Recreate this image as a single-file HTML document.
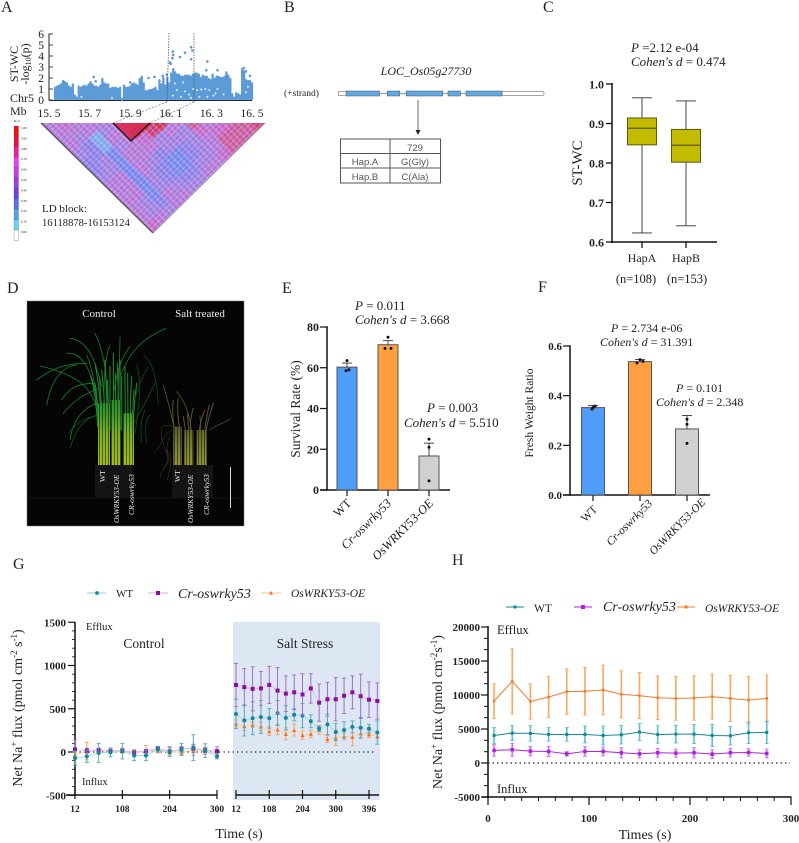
<!DOCTYPE html>
<html lang="en">
<head>
<meta charset="utf-8">
<title>OsWRKY53 salt tolerance figure</title>
<style>
html,body{margin:0;padding:0;background:#fff;width:799px;height:843px;overflow:hidden}
svg{display:block}
text{font-family:"Liberation Serif",serif;fill:#222}
.letter{font-size:16px}
.note{font-size:13px}
.it{font-style:italic}
.tick{font-size:11px;font-weight:bold;fill:#111}
</style>
</head>
<body>
<svg id="fig" xmlns="http://www.w3.org/2000/svg" width="799" height="843" viewBox="0 0 799 843">
<defs>
<clipPath id="ldClip"><polygon points="41,123 265,123 153,233"/></clipPath>
<pattern id="meshA" width="4" height="4" patternUnits="userSpaceOnUse" patternTransform="rotate(45)"><rect width="1.2" height="4" fill="#bfe4ff" opacity=".32"/><rect x="2.4" width=".8" height="4" fill="#a040c0" opacity=".14"/></pattern>
<pattern id="meshB" width="5" height="5" patternUnits="userSpaceOnUse" patternTransform="rotate(-45)"><rect width="1.2" height="5" fill="#d8d8ff" opacity=".32"/><rect x="3" width=".9" height="5" fill="#6040c0" opacity=".14"/></pattern>
<linearGradient id="stemG" gradientUnits="userSpaceOnUse" x1="0" y1="435" x2="0" y2="170"><stop offset="0" stop-color="#a2bc1e"/><stop offset=".35" stop-color="#7cb024"/><stop offset=".6" stop-color="#38982c"/><stop offset="1" stop-color="#187428"/></linearGradient>
<linearGradient id="stemS" gradientUnits="userSpaceOnUse" x1="0" y1="435" x2="0" y2="280"><stop offset="0" stop-color="#949438"/><stop offset=".5" stop-color="#6e7430"/><stop offset="1" stop-color="#404c20"/></linearGradient>
<pattern id="stemStripes" width="9" height="9" patternUnits="userSpaceOnUse"><rect width="2.6" height="9" fill="#000" opacity=".55"/></pattern>
</defs>

<!-- panel letters -->
<text class="letter" x="1" y="12">A</text>
<text class="letter" x="284" y="12">B</text>
<text class="letter" x="543" y="12">C</text>
<text class="letter" x="7" y="293">D</text>
<text class="letter" x="282" y="293">E</text>
<text class="letter" x="538" y="292">F</text>
<text class="letter" x="13" y="569">G</text>
<text class="letter" x="452" y="565">H</text>

<!-- Panel A -->
<g id="panelA">
  <g id="manhattan"></g>
  <text x="18" y="64" transform="rotate(-90 18 64)" text-anchor="middle" font-size="12">ST-WC</text>
  <text x="29" y="64" transform="rotate(-90 29 64)" text-anchor="middle" font-size="12">-log<tspan font-size="8" dy="2">10</tspan><tspan dy="-2">(p)</tspan></text>
  <text x="10" y="102" font-size="12">Chr5</text>
  <text x="10" y="115" font-size="12">Mb</text>
  <g id="ldMap" clip-path="url(#ldClip)"></g>
  <rect x="41" y="123" width="224" height="110" fill="url(#meshA)" clip-path="url(#ldClip)"/>
  <rect x="41" y="123" width="224" height="110" fill="url(#meshB)" clip-path="url(#ldClip)"/>
  <polygon points="113,123 150,123 131,141" fill="#d8264c" opacity=".85"/>
  <polyline points="113,123 131,141 150,123" fill="none" stroke="#111" stroke-width="1.3"/>
  <line x1="41" y1="123" x2="153" y2="233" stroke="#555" stroke-width="1.3"/>
  <line x1="265" y1="123" x2="153" y2="233" stroke="#8a7a9a" stroke-width=".7"/>
  <line x1="167" y1="102" x2="113" y2="123" stroke="#777" stroke-width=".7" stroke-dasharray="2 1.5"/>
  <line x1="194" y1="102" x2="150" y2="123" stroke="#777" stroke-width=".7" stroke-dasharray="2 1.5"/>
  <text x="42" y="212" font-size="11">LD block:</text>
  <text x="42" y="226" font-size="10.6">16118878-16153124</text>
  <g id="ldBar"></g>
  <text x="14" y="122" font-size="3.5">R^2</text>
</g>

<!-- Panel B -->
<g id="panelB">
  <text x="426" y="75" text-anchor="middle" font-size="12" class="it" fill="#333">LOC_Os05g27730</text>
  <text x="284" y="96" font-size="9.5">(+strand)</text>
  <line x1="338" y1="93.5" x2="544" y2="93.5" stroke="#aaa" stroke-width="1.6"/>
  <rect x="338.5" y="91.5" width="8" height="4" fill="#fff" stroke="#888" stroke-width=".7"/>
  <rect x="502" y="91.5" width="42" height="4" rx="1.5" fill="#fff" stroke="#888" stroke-width=".7"/>
  <rect x="346" y="91" width="33.5" height="5" fill="#62a8e0" stroke="#456" stroke-width=".5"/>
  <rect x="387.3" y="91" width="12.5" height="5" fill="#62a8e0" stroke="#456" stroke-width=".5"/>
  <rect x="406.3" y="91" width="36.5" height="5" fill="#62a8e0" stroke="#456" stroke-width=".5"/>
  <rect x="448" y="91" width="12.5" height="5" fill="#62a8e0" stroke="#456" stroke-width=".5"/>
  <rect x="466" y="91" width="36" height="5" fill="#62a8e0" stroke="#456" stroke-width=".5"/>
  <line x1="418" y1="100" x2="418" y2="131" stroke="#444" stroke-width=".8"/>
  <polygon points="415.5,130 420.5,130 418,135" fill="#222"/>
  <g fill="none" stroke="#555" stroke-width="1">
    <rect x="340.5" y="139" width="100" height="44"/>
    <line x1="390" y1="139" x2="390" y2="183"/>
    <line x1="340.5" y1="153.5" x2="440.5" y2="153.5"/>
    <line x1="340.5" y1="168" x2="440.5" y2="168"/>
  </g>
  <g style="font-family:'Liberation Sans',sans-serif" font-size="9.5" text-anchor="middle">
    <text x="415" y="151" style="font-family:'Liberation Sans',sans-serif;fill:#555">729</text>
    <text x="365" y="165" style="font-family:'Liberation Sans',sans-serif;fill:#555">Hap.A</text>
    <text x="415" y="165" style="font-family:'Liberation Sans',sans-serif;fill:#555">G(Gly)</text>
    <text x="365" y="180" style="font-family:'Liberation Sans',sans-serif;fill:#555">Hap.B</text>
    <text x="415" y="180" style="font-family:'Liberation Sans',sans-serif;fill:#555">C(Ala)</text>
  </g>
</g>

<!-- Panel C -->
<g id="panelC">
  <text x="631" y="52" class="note"><tspan class="it">P</tspan> =2.12 e-04</text>
  <text x="631" y="66" class="note"><tspan class="it">Cohen's d</tspan> = 0.474</text>
  <text x="582" y="163" transform="rotate(-90 582 163)" text-anchor="middle" font-size="15">ST-WC</text>
  <g id="boxChart"></g>
</g>

<!-- Panel D photograph drawn with shapes -->
<g id="panelD">
  <rect x="27" y="301" width="217" height="225" fill="#050505" stroke="#777" stroke-width=".5"/>
  <line x1="27" y1="498" x2="244" y2="498" stroke="#121212"/>
  <rect x="95" y="465" width="38" height="33" fill="#141414"/>
  <rect x="172" y="465" width="41" height="33" fill="#141414"/>
  <g transform="translate(30,320) scale(.33333)" fill="none" stroke-linecap="round">
    <g stroke="#1a7f2a" stroke-width="2.4">
      <path d="M205 300C195 220 170 170 30 138"/><path d="M20 180C60 150 100 130 170 130"/><path d="M50 255C60 200 85 140 140 135"/>
      <path d="M120 360C130 290 170 260 200 250"/><path d="M270 170C300 90 340 55 408 25"/><path d="M120 55C160 60 190 90 215 200"/>
      <path d="M195 40C215 80 230 130 235 280"/><path d="M240 75C225 110 220 170 222 300"/><path d="M270 50C270 100 265 200 260 300"/>
      <path d="M110 100C150 95 185 140 200 240"/><path d="M300 80C270 120 250 170 245 300"/><path d="M100 280C130 240 170 220 205 205"/>
      <path d="M170 105C190 150 200 230 205 300"/><path d="M95 240C120 200 150 190 190 190"/>
    </g>
    <g stroke="#1f8a2c" stroke-width="3.2">
      <path d="M195 130C205 180 212 240 215 330"/><path d="M225 120C228 180 232 240 232 330"/><path d="M250 100C250 170 250 240 252 330"/>
      <path d="M262 130C264 190 266 250 266 330"/><path d="M285 140C285 190 285 260 287 340"/><path d="M305 170C302 220 300 280 300 340"/>
      <path d="M215 150C220 200 225 250 225 330"/><path d="M240 140C240 200 240 260 240 330"/><path d="M275 170C275 220 275 270 275 330"/>
      <path d="M195 190C202 230 205 270 208 340"/><path d="M320 190C315 230 310 280 308 340"/><path d="M208 170C212 220 216 270 218 330"/>
      <path d="M232 180C234 220 236 270 236 330"/><path d="M256 160C256 210 258 260 258 330"/><path d="M270 120C270 190 270 260 272 330"/>
      <path d="M293 160C293 210 294 270 294 340"/><path d="M312 210C310 250 306 290 304 340"/><path d="M182 170C195 210 200 260 203 320"/>
    </g>
    <g stroke="#0f5a20" stroke-width="2">
      <path d="M375 190C360 220 330 280 300 330"/><path d="M340 105C370 125 380 180 385 250"/><path d="M120 385C130 350 150 300 200 285"/>
      <path d="M115 340C140 310 165 290 195 290"/><path d="M355 140C330 180 310 230 295 340"/><path d="M350 370C345 330 345 300 360 285"/>
      <path d="M320 135C335 180 330 240 315 340"/><path d="M335 365C330 330 332 300 345 270"/>
    </g>
    <rect x="204" y="250" width="36" height="185" fill="url(#stemG)"/>
    <rect x="244" y="240" width="28" height="195" fill="url(#stemG)"/>
    <rect x="280" y="280" width="32" height="155" fill="url(#stemG)"/>
    <rect x="204" y="250" width="36" height="185" fill="url(#stemStripes)"/>
    <rect x="244" y="240" width="28" height="195" fill="url(#stemStripes)"/>
    <rect x="280" y="280" width="32" height="155" fill="url(#stemStripes)"/>
  </g>
  <g transform="translate(30,320) scale(.33333)" fill="none" stroke-linecap="round">
    <g stroke="#3f6a26" stroke-width="2.2">
      <path d="M400 195C415 250 430 300 435 350"/><path d="M440 215C470 250 480 290 485 340"/><path d="M540 330C560 315 580 310 600 297"/>
      <path d="M510 290C512 320 515 350 515 380"/>
    </g>
    <g stroke="#5e4e36" stroke-width="3">
      <path d="M430 240C425 270 430 320 440 360"/><path d="M445 235C440 260 445 300 450 340"/><path d="M490 265C480 290 480 330 480 370"/>
      <path d="M550 250C540 280 530 310 520 380"/><path d="M525 270C510 300 505 340 505 380"/><path d="M460 290C465 320 470 350 470 380"/>
      <path d="M472 280C475 310 478 340 478 370"/><path d="M538 255C530 285 525 320 522 360"/>
    </g>
    <g stroke="#5a462c" stroke-width="1.4">
      <path d="M430 320C380 300 390 350 410 400C420 430 395 450 390 470"/><path d="M425 330C400 340 395 380 375 395"/>
      <path d="M405 390C430 400 425 430 412 478"/><path d="M420 350C395 390 435 420 400 445"/>
    </g>
    <rect x="430" y="320" width="25" height="115" fill="url(#stemS)"/>
    <rect x="463" y="330" width="27" height="105" fill="url(#stemS)"/>
    <rect x="500" y="330" width="30" height="105" fill="url(#stemS)"/>
    <rect x="430" y="320" width="25" height="115" fill="url(#stemStripes)"/>
    <rect x="463" y="330" width="27" height="105" fill="url(#stemStripes)"/>
    <rect x="500" y="330" width="30" height="105" fill="url(#stemStripes)"/>
  </g>
  <line x1="230.500" y1="467" x2="230.500" y2="508" stroke="#ddd" stroke-width="1"/>
  <text x="99" y="317" text-anchor="middle" font-size="11" style="fill:#eee">Control</text>
  <text x="200" y="317" text-anchor="middle" font-size="11" style="fill:#eee">Salt treated</text>
  <g font-size="7.5">
    <text transform="translate(105,482) rotate(-90)" style="fill:#eee">WT</text>
    <text transform="translate(119,523) rotate(-90)" class="it" style="fill:#eee">OsWRKY53-OE</text>
    <text transform="translate(134,515) rotate(-90)" class="it" style="fill:#eee">CR-oswrky53</text>
    <text transform="translate(180,482) rotate(-90)" style="fill:#eee">WT</text>
    <text transform="translate(193,523) rotate(-90)" class="it" style="fill:#eee">OsWRKY53-OE</text>
    <text transform="translate(209,515) rotate(-90)" class="it" style="fill:#eee">CR-oswrky53</text>
  </g>
</g>

<!-- Panel E -->
<g id="panelE">
  <text x="355" y="310" class="note"><tspan class="it">P</tspan> = 0.011</text>
  <text x="355" y="324" class="note"><tspan class="it">Cohen's d</tspan> = 3.668</text>
  <text x="427" y="412" class="note"><tspan class="it">P</tspan> = 0.003</text>
  <text x="404" y="427" class="note"><tspan class="it">Cohen's d</tspan> = 5.510</text>
  <text x="300" y="409" transform="rotate(-90 300 409)" text-anchor="middle" font-size="13.500">Survival Rate (%)</text>
  <g id="barE"></g>
</g>

<!-- Panel F -->
<g id="panelF">
  <text x="611" y="332" font-size="12"><tspan class="it">P</tspan> = 2.734 e-06</text>
  <text x="600" y="346" font-size="12"><tspan class="it">Cohen's d</tspan> = 31.391</text>
  <text x="676" y="392" font-size="12"><tspan class="it">P</tspan> = 0.101</text>
  <text x="656" y="406" font-size="12"><tspan class="it">Cohen's d</tspan> = 2.348</text>
  <text x="533" y="413" transform="rotate(-90 533 413)" text-anchor="middle" font-size="11.500">Fresh Weight Ratio</text>
  <g id="barF"></g>
</g>

<!-- Panel G -->
<g id="panelG">
  <rect x="233" y="622" width="147" height="178" fill="#dce7f3"/>
  <g id="lineG"></g>
  <text x="86" y="630" font-size="10.500">Efflux</text>
  <text x="82" y="785" font-size="10.500">Influx</text>
  <text x="144" y="648" text-anchor="middle" font-size="13.500">Control</text>
  <text x="305" y="648" text-anchor="middle" font-size="13.500">Salt Stress</text>
  <text x="239" y="838" text-anchor="middle" font-size="14">Time (s)</text>
  <text x="22" y="708" transform="rotate(-90 22 708)" text-anchor="middle" font-size="14">Net Na<tspan font-size="9" dy="-5">+</tspan><tspan dy="5"> flux (pmol cm</tspan><tspan font-size="9" dy="-5">-2</tspan><tspan dy="5"> s</tspan><tspan font-size="9" dy="-5">-1</tspan><tspan dy="5">)</tspan></text>
  <g>
    <line x1="87" y1="593" x2="106" y2="593" stroke="#a8d8e8" stroke-width="1.3"/>
    <circle cx="97" cy="593" r="1.9" fill="#16869a"/>
    <text x="116" y="597" font-size="11">WT</text>
    <line x1="148" y1="593" x2="168" y2="593" stroke="#e8b8ec" stroke-width="1.3"/>
    <rect x="156" y="591" width="4" height="4" fill="#8a0fa0"/>
    <text x="178" y="598" font-size="14" class="it">Cr-oswrky53</text>
    <line x1="261" y1="593" x2="281" y2="593" stroke="#fbd0a0" stroke-width="1.3"/>
    <polygon points="271,590.800 273,594.500 269,594.500" fill="#f57020"/>
    <text x="291" y="597" font-size="11.500" class="it">OsWRKY53-OE</text>
  </g>
</g>

<!-- Panel H -->
<g id="panelH">
  <g id="lineH"></g>
  <text x="497" y="634" font-size="12.500">Efflux</text>
  <text x="497" y="793" font-size="12.500">Influx</text>
  <text x="645" y="839" text-anchor="middle" font-size="14">Times (s)</text>
  <text x="442" y="712" transform="rotate(-90 442 712)" text-anchor="middle" font-size="14">Net Na<tspan font-size="9" dy="-5">+</tspan><tspan dy="5"> flux (pmol cm</tspan><tspan font-size="9" dy="-5">-2</tspan><tspan dy="5">s</tspan><tspan font-size="9" dy="-5">-1</tspan><tspan dy="5">)</tspan></text>
  <g>
    <line x1="506" y1="607" x2="524" y2="607" stroke="#16869a" stroke-width="1"/>
    <rect x="513.500" y="605.500" width="3" height="3" fill="#16869a"/>
    <text x="534" y="612" font-size="11.500">WT</text>
    <line x1="574" y1="607" x2="592" y2="607" stroke="#b01fe0" stroke-width="1"/>
    <rect x="581" y="605" width="4" height="4" fill="#b01fe0"/>
    <text x="603" y="611" font-size="14" class="it">Cr-oswrky53</text>
    <line x1="677" y1="607" x2="695" y2="607" stroke="#f07a2e" stroke-width="1"/>
    <rect x="684.500" y="605.500" width="3" height="3" fill="#f07a2e"/>
    <text x="705" y="612" font-size="11.500" class="it">OsWRKY53-OE</text>
  </g>
</g>
</svg>

<script>
// ---------- Panel A data ----------
var manhattanXTicks = ["15. 5","15. 7","15. 9","16. 1","16. 3","16. 5"];
var manhattanXValues = [15.5,15.7,15.9,16.1,16.3,16.5];
var manhattanYTicks = [0,1,2,3,4,5,6];
var manhattanBinStart = 15.53;
var manhattanBinEnd = 16.5;
var manhattanTops = [1.2,1.3,1.4,1.5,1.7,1.7,1.6,1.3,1.2,1.5,.5,.3,1.3,1.2,1.3,1.4,1.3,1.5,1.7,1.5,1.3,1.3,1.2,1.4,2.0,1.6,1.5,1.5,1.1,1.2,1.2,1.2,1.1,1.2,.1,1.4,1.2,1.2,1.3,1.5,1.6,1.5,1.4,2.0,2.2,1.6,.9,.9,1.0,1.0,1.1,1.2,.9,1.9,1.5,2.1,1.4,2.1,1.6,2.5,2.9,2.6,2.4,2.4,2.2,2.2,2.3,2.3,2.3,2.2,2.4,2.5,2.5,2.4,2.1,2.3,2.2,2.2,2.0,1.9,2.4,2.0,2.2,2.2,2.1,2.1,2.2,2.6,2.3,2.0,.6,.3,.7,.6,.5,2.9,2.7,1.9,1.8,1.8,1.6];
var manhattanHitPos = [16.11,16.112,16.108,16.096,16.1,16.145,16.17,16.2,16.206,16.2,16.28,16.275,16.33,16.46,16.47,16.49,16.06,16.08,16.02,15.99,15.72,15.57,15.73,15.9];
var manhattanHitVal = [4.4,4.1,3.8,3.4,3.3,3.9,4.3,4.8,4.5,3.7,3.5,2.7,2.7,2.9,2.6,2.2,2.2,2.3,2.1,2.0,2.1,1.7,1.7,1.6];
var manhattanGapPos = [16.11,16.13,16.15,16.17,16.19,16.21,16.23,16.25,16.27,16.29,16.31,16.33,16.12,16.16,16.2,16.24,16.28,16.32,16.36,16.47,16.48,15.66,15.81];
var manhattanGapVal = [.4,.9,.3,.8,.5,1.0,.9,.95,1.0,.9,.4,1.0,1.5,1.6,.2,.3,.3,.6,.5,.7,1.2,.3,.2];

var ldLegendLabels = ["1.00","0.90","0.80","0.70","0.60","0.50","0.40","0.30","0.20","0.10","0.00"];
var ldLegendLevels = [1,.9,.8,.7,.6,.5,.4,.3,.2,.1,0];
var ldRow0 = [.6,.65,.6,.55,.6,.8,.95,.95,.6,.75,.6,.7,.75,.85];
var ldRow1 = [.6,.6,.55,.5,.6,.9,.9,.55,.5,.65,.7,.75,.8];
var ldRow2 = [.55,.5,.2,.55,.55,.7,.5,.45,.5,.6,.75,.8];
var ldRow3 = [.55,.4,.2,.5,.55,.6,.45,.4,.45,.6,.8];
var ldRow4 = [.45,.35,.25,.55,.6,.4,.3,.35,.5,.7];
var ldRow5 = [.35,.45,.25,.6,.5,.3,.3,.45,.6];
var ldRow6 = [.4,.5,.25,.6,.4,.3,.4,.55];
var ldRow7 = [.5,.55,.3,.5,.4,.4,.5];
var ldRow8 = [.55,.55,.3,.5,.5,.5];
var ldRow9 = [.55,.55,.3,.55,.6];
var ldRow10 = [.6,.5,.35,.6];
var ldRow11 = [.55,.5,.5];
var ldRow12 = [.6,.6];
var ldRow13 = [.65];
var ldRows = [ldRow0,ldRow1,ldRow2,ldRow3,ldRow4,ldRow5,ldRow6,ldRow7,ldRow8,ldRow9,ldRow10,ldRow11,ldRow12,ldRow13];

// ---------- Panel C data ----------
var boxCategories = ["HapA","HapB"];
var boxCounts = ["(n=108)","(n=153)"];
var boxMin = [.623,.641];
var boxQ1 = [.846,.802];
var boxMedian = [.888,.845];
var boxQ3 = [.914,.885];
var boxMax = [.965,.957];
var boxTicks = [.6,.7,.8,.9,1];

// ---------- Panel E data ----------
var survivalGroups = ["WT","Cr-oswrky53","OsWRKY53-OE"];
var survivalMeans = [60.3,71.3,16.7];
var survivalErr = [2,2,6.3];
var survivalDots1 = [63.5,75,25];
var survivalDots2 = [59,69.5,21];
var survivalDots3 = [58.5,69.5,4.5];
var survivalTicks = [0,20,40,60,80];

// ---------- Panel F data ----------
var weightGroups = ["WT","Cr-oswrky53","OsWRKY53-OE"];
var weightMeans = [.352,.537,.266];
var weightErr = [.008,.009,.054];
var weightDots1 = [.358,.545,.305];
var weightDots2 = [.352,.538,.285];
var weightDots3 = [.346,.532,.208];
var weightTicks = ["0.0","0.2","0.4","0.6"];
var weightTickValues = [0,.2,.4,.6];

// ---------- Panel G data ----------
var rootTimeControl = [12,36,60,84,108,132,156,180,204,228,252,276,300];
var rootWtControl = [-70,-50,-10,-5,10,-40,-40,30,0,30,50,15,-50];
var rootWtControlErr = [80,70,110,50,90,60,60,30,50,70,150,80,30];
var rootCrControl = [30,15,20,10,15,-5,10,45,5,35,40,20,10];
var rootCrControlErr = [110,30,20,20,20,20,20,15,55,30,50,30,50];
var rootOeControl = [-30,10,15,20,15,0,15,20,0,0,20,10,-20];
var rootOeControlErr = [30,100,30,30,30,30,60,30,30,30,60,40,30];
var rootTimeSalt = [12,36,60,84,108,132,156,180,204,228,252,276,300,324,348,372,396,420];
var rootCrSalt = [775,750,730,735,775,710,675,690,665,735,570,610,610,650,690,645,605,590];
var rootCrSaltErr = [250,215,255,195,215,265,205,200,240,170,215,195,250,205,190,255,205,210];
var rootWtSalt = [440,365,390,405,390,450,395,430,420,355,270,320,230,255,290,280,270,225];
var rootWtSaltErr = [170,180,190,190,115,145,140,70,140,75,30,120,100,95,70,120,50,135];
var rootOeSalt = [330,300,315,295,240,260,210,255,195,210,255,150,165,180,175,215,205,185];
var rootOeSaltErr = [40,50,30,50,50,60,70,70,50,40,50,40,90,40,105,50,40,30];
var rootYTicks = [-500,0,500,1000,1500];
var rootXTicksControl = [12,108,204,300];
var rootXTicksSalt = [12,108,204,300,396];

// ---------- Panel H data ----------
var leafTime = [6,24,42,60,78,96,114,132,150,168,186,204,222,240,258,276];
var leafOe = [9100,12000,9050,9700,10500,10550,10750,10100,9900,9600,9500,9550,9750,9500,9250,9500];
var leafOeErr = [2550,4800,2600,3000,3350,3500,3650,3450,3400,3200,3200,3250,3300,3400,3450,3450];
var leafWt = [4050,4400,4350,4200,4200,4200,4050,4150,4550,4200,4250,4250,4050,4000,4450,4500];
var leafWtErr = [1150,1100,1150,1000,1000,1250,1400,1350,1250,1300,1300,1400,1650,1350,1600,1650];
var leafCr = [1850,1950,1750,1700,1350,1700,1700,1500,1350,1500,1450,1500,1300,1500,1550,1400];
var leafCrErr = [850,950,700,750,350,700,650,750,600,650,600,750,650,650,550,650];
var leafYTicks = [-5000,0,5000,10000,15000,20000];
var leafXTicks = [0,100,200,300];

// ---------- helpers ----------
var NS = "http://www.w3.org/2000/svg";
function mk(parent, tag, attrs, txt) {
  var n = document.createElementNS(NS, tag);
  for (var k in attrs) n.setAttribute(k, attrs[k]);
  if (txt !== undefined) n.textContent = txt;
  parent.appendChild(n);
  return n;
}
function line(parent, x1, y1, x2, y2, stroke, w, name) {
  var l = mk(parent, 'line', {x1:x1, y1:y1, x2:x2, y2:y2, stroke:stroke, 'stroke-width':w});
  
  
  return l;
}
function label(parent, x, y, str, size, bold, anchor, name) {
  var t = mk(parent, 'text', {x:x, y:y, 'font-size':size, 'text-anchor':anchor, 'font-weight':bold ? 'bold' : 'normal'}, str);
  
  
  return t;
}

// ---------- Panel A ----------
(function () {
  var g = document.getElementById('manhattan');
  var x = function (v) { return 49 + (v - 15.5) * 203; };
  var y = function (v) { return 100 - v * 11; };
  line(g, 49, 100.5, 252, 100.5, '#222', 1, 'manhattan-x-axis');
  line(g, 49, 33.5, 49, 100.5, '#444', 1.2, 'manhattan-y-axis');
  manhattanYTicks.forEach(function (v) {
    line(g, 49, y(v), 53, y(v), '#444', 1, 'manhattan-y-tick');
    label(g, 44, y(v) + 4, String(v), 11.5, false, 'end', 'manhattan-y-label');
  });
  manhattanXValues.forEach(function (v, i) {
    label(g, x(v), 117, manhattanXTicks[i], 11.5, false, 'middle', 'manhattan-x-label');
  });
  var n = manhattanTops.length;
  manhattanTops.forEach(function (v, i) {
    var p = manhattanBinStart + i * (manhattanBinEnd - manhattanBinStart) / (n - 1);
    var b = mk(g, 'line', {x1:x(p), x2:x(p), y1:y(0) - 1, y2:y(v) + 1, stroke:'#5b9bd8', 'stroke-width':2.3, 'stroke-linecap':'round'});
    
    
  });
  manhattanHitPos.forEach(function (p, i) {
    var c = mk(g, 'circle', {cx:x(p), cy:y(manhattanHitVal[i]), r:1.3, fill:'#5b9bd8'});
    
    
  });
  manhattanGapPos.forEach(function (p, i) {
    var c = mk(g, 'circle', {cx:x(p), cy:y(manhattanGapVal[i]), r:1, fill:'#e6f0fa'});
    
    
  });
  var d1 = line(g, 169, 33, 167, 102, '#555', .8, 'ld-block-left-boundary');
  d1.setAttribute('stroke-dasharray', '1.5 1.2');
  var d2 = line(g, 194, 33, 194, 102, '#555', .8, 'ld-block-right-boundary');
  d2.setAttribute('stroke-dasharray', '1.5 1.2');

  var palette = ['#ffffff','#62d8f6','#5aa0f0','#5a70f0','#7040f0','#9c3ee8','#c83cf0','#ee3ef0','#f0209a','#e8104c','#f01010'];
  var cellPalette = ['#ffffff','#7cd0ec','#80b0ee','#7a88ee','#9080e8','#a880e0','#bc78d8','#cc68c8','#d45898','#d83870','#e02840'];
  var colorOf = function (v) { return palette[Math.max(0, Math.min(10, Math.round(v * 10)))]; };
  var cellColor = function (v) { return cellPalette[Math.max(0, Math.min(10, Math.round(v * 10)))]; };
  var map = document.getElementById('ldMap');
  var u = 16, h = 7.86, x0 = 41, y0 = 123;
  ldRows.forEach(function (row, d) {
    row.forEach(function (v, i) {
      var cx = x0 + u * (i + d / 2 + .5);
      var cy = y0 + h * d;
      var pts = cx + ',' + (cy - h) + ' ' + (cx + u / 2) + ',' + cy + ' ' + cx + ',' + (cy + h) + ' ' + (cx - u / 2) + ',' + cy;
      var c = mk(map, 'polygon', {points:pts, fill:cellColor(v), stroke:cellColor(v), 'stroke-width':.3});
      
      
    });
  });
  var bar = document.getElementById('ldBar');
  ldLegendLevels.forEach(function (v, i) {
    var r = mk(bar, 'rect', {x:14, y:126 + i * 10.4, width:4.5, height:10.4, fill:colorOf(v), stroke:'#444', 'stroke-width':.25});
    
    
    label(bar, 21, 129 + i * 10.4, ldLegendLabels[i], 3.4, false, 'start', 'ld-legend-label');
  });
})();

// ---------- Panel C ----------
(function () {
  var g = document.getElementById('boxChart');
  var y = function (v) { return 242 - (v - .6) * 395; };
  var xs = [642, 686];
  var countX = [636, 687];
  line(g, 612, 83, 612, 243, '#111', 1.5, 'boxplot-y-axis');
  line(g, 611, 242, 717, 242, '#111', 1.5, 'boxplot-x-axis');
  boxTicks.forEach(function (v) {
    line(g, 606, y(v), 612, y(v), '#111', 1.3, 'boxplot-y-tick');
    label(g, 604, y(v) + 4.5, v === 1 ? '1.0' : v.toFixed(1), 12, true, 'end', 'boxplot-y-label');
  });
  boxCategories.forEach(function (c, i) {
    var x = xs[i];
    line(g, x, 242, x, 248, '#111', 1.3, 'boxplot-x-tick');
    line(g, x, y(boxMin[i]), x, y(boxMax[i]), '#333', .9, 'boxplot-whisker');
    line(g, x - 10, y(boxMin[i]), x + 10, y(boxMin[i]), '#333', .9, 'boxplot-lower-cap');
    line(g, x - 10, y(boxMax[i]), x + 10, y(boxMax[i]), '#333', .9, 'boxplot-upper-cap');
    var r = mk(g, 'rect', {x:x - 14.5, y:y(boxQ3[i]), width:29, height:y(boxQ1[i]) - y(boxQ3[i]), fill:'#c2bb00', stroke:'#5c5a10', 'stroke-width':1});
    
    
    line(g, x - 14.5, y(boxMedian[i]), x + 14.5, y(boxMedian[i]), '#5c5a10', 1.3, 'boxplot-median');
    label(g, x, 262, c, 12, false, 'middle', 'boxplot-category');
    label(g, countX[i], 283, boxCounts[i], 12.5, false, 'middle', 'boxplot-count');
  });
})();

// ---------- Bar charts ----------
function barChart(id, cfg) {
  var g = document.getElementById(id);
  var colors = ['#4f9cf9', '#ff9f3f', '#d0d0d0'];
  var y = cfg.y;
  line(g, cfg.x0, y(cfg.yMax) - .7, cfg.x0, cfg.y0 + .8, '#111', 1.5, 'bar-y-axis');
  line(g, cfg.x0 - 7, cfg.y0, cfg.x1, cfg.y0, '#111', 1.5, 'bar-x-axis');
  cfg.ticks.forEach(function (v, i) {
    line(g, cfg.x0 - 7, y(v), cfg.x0, y(v), '#111', 1.2, 'bar-y-tick');
    label(g, cfg.x0 - 8, y(v) + 4, cfg.tickLabels[i], cfg.tickSize, true, 'end', 'bar-y-label');
  });
  cfg.means.forEach(function (m, i) {
    var x = cfg.xs[i], w = cfg.w;
    line(g, x, cfg.y0, x, cfg.y0 + 6, '#111', 1.2, 'bar-x-tick');
    var r = mk(g, 'rect', {x:x - w / 2, y:y(m), width:w, height:cfg.y0 - y(m), fill:colors[i], stroke:'#555', 'stroke-width':1});
    
    
    line(g, x, y(m), x, y(m + cfg.err[i]), '#333', .9, 'bar-error-stem');
    line(g, x - 5, y(m + cfg.err[i]), x + 5, y(m + cfg.err[i]), '#333', .9, 'bar-error-cap');
    var offs = cfg.offs;
    [cfg.d1[i], cfg.d2[i], cfg.d3[i]].forEach(function (v, k) {
      var c = mk(g, 'circle', {cx:x + offs[i][k], cy:y(v), r:1.5, fill:'#111'});
      
      
    });
    var t = mk(g, 'text', {x:0, y:0, 'font-size':cfg.labelSize, 'text-anchor':'end', transform:'translate(' + cfg.lx[i] + ',' + cfg.ly[i] + ') rotate(-45)', 'font-style':i === 0 ? 'normal' : 'italic'}, cfg.groups[i]);
    
    
  });
}
barChart('barE', {
  x0:327, x1:450, y0:490, yMax:80, y:function (v) { return 490 - v * 163 / 80; },
  ticks:survivalTicks, tickLabels:survivalTicks.map(String), tickSize:12,
  means:survivalMeans, err:survivalErr, d1:survivalDots1, d2:survivalDots2, d3:survivalDots3,
  groups:survivalGroups, xs:[347,388,429], w:20,
  offs:[[0,2,-1],[0,-3,3],[0,0,0]],
  lx:[352,392,434], ly:[504,504,504], labelSize:12.5
});
barChart('barF', {
  x0:570, x1:710, y0:495, yMax:.6, y:function (v) { return 495 - v * 149 / .6; },
  ticks:weightTickValues, tickLabels:weightTicks, tickSize:11,
  means:weightMeans, err:weightErr, d1:weightDots1, d2:weightDots2, d3:weightDots3,
  groups:weightGroups, xs:[593,640,687], w:23,
  offs:[[2,0,-1],[0,3,-3],[0,0,0]],
  lx:[598,653,706], ly:[510,504,503], labelSize:11.5
});

// ---------- Line with error helper ----------
function series(g, xs, ys, errs, cfg) {
  var pts = xs.map(function (x, i) { return x + ',' + ys[i]; }).join(' ');
  var pl = mk(g, 'polyline', {points:pts, fill:'none', stroke:cfg.line, 'stroke-width':cfg.lw});
  
  
  xs.forEach(function (x, i) {
    line(g, x, errs[i][0], x, errs[i][1], cfg.err, cfg.ew, cfg.name + '-error-bar');
    line(g, x - cfg.cap, errs[i][0], x + cfg.cap, errs[i][0], cfg.err, .9, cfg.name + '-error-cap');
    line(g, x - cfg.cap, errs[i][1], x + cfg.cap, errs[i][1], cfg.err, .9, cfg.name + '-error-cap');
    var m;
    if (cfg.shape === 'circle') m = mk(g, 'circle', {cx:x, cy:ys[i], r:cfg.size / 2, fill:cfg.mark});
    else if (cfg.shape === 'tri') m = mk(g, 'polygon', {points:x + ',' + (ys[i] - cfg.size / 2) + ' ' + (x + cfg.size / 2) + ',' + (ys[i] + cfg.size / 2) + ' ' + (x - cfg.size / 2) + ',' + (ys[i] + cfg.size / 2), fill:cfg.mark});
    else m = mk(g, 'rect', {x:x - cfg.size / 2, y:ys[i] - cfg.size / 2, width:cfg.size, height:cfg.size, fill:cfg.mark});
    
    
  });
}

// ---------- Panel G ----------
(function () {
  var g = document.getElementById('lineG');
  var y = function (v) { return 752 - v * .0865; };
  var xa = function (t) { return 75 + (t - 12) * 142 / 288; };
  var xb = function (t) { return 236 + (t - 12) * 133 / 384; };
  var zero = line(g, 75, 752, 376, 752, '#222', 1.2, 'root-zero-line');
  zero.setAttribute('stroke-dasharray', '1.3 3.2');
  line(g, 75, 622, 75, 795.700, '#111', 1.5, 'root-y-axis');
  line(g, 66, 795, 217, 795, '#111', 1.5, 'root-x-axis-control');
  line(g, 236, 795, 379, 795, '#111', 1.5, 'root-x-axis-salt');
  rootYTicks.forEach(function (v) {
    line(g, 68, y(v), 75, y(v), '#111', 1.2, 'root-y-tick');
    label(g, 66, y(v) + 4, String(v), 11, true, 'end', 'root-y-label');
  });
  [-400,-300,-200,-100,100,200,300,400,600,700,800,900,1100,1200,1300,1400].forEach(function (v) {
    line(g, 72, y(v), 75, y(v), '#111', .8, 'root-y-minor-tick');
  });
  rootXTicksControl.forEach(function (t) {
    line(g, xa(t), 790, xa(t), 799, '#111', 1.2, 'root-x-tick');
    label(g, xa(t), 812, String(t), 9.5, true, 'middle', 'root-x-label');
  });
  rootXTicksSalt.forEach(function (t) {
    line(g, xb(t), 790, xb(t), 799, '#111', 1.2, 'root-x-tick');
    label(g, xb(t), 812, String(t), 9.5, true, 'middle', 'root-x-label');
  });
  var bars = function (vals, errs) { return vals.map(function (v, i) { return [y(v + errs[i]), y(v - errs[i])]; }); };
  var wt = {line:'#a8d8e8', lw:1, err:'#4fa9bb', ew:1, cap:2, mark:'#16869a', shape:'circle', size:4, name:'root-wt'};
  var cr = {line:'#e8b8ec', lw:1, err:'#a868c4', ew:1, cap:2, mark:'#8a0fa0', shape:'rect', size:4, name:'root-cr'};
  var oe = {line:'#fbd0a0', lw:1, err:'#f9a060', ew:1, cap:2, mark:'#f57020', shape:'tri', size:4, name:'root-oe'};
  series(g, rootTimeControl.map(xa), rootOeControl.map(y), bars(rootOeControl, rootOeControlErr), oe);
  series(g, rootTimeControl.map(xa), rootCrControl.map(y), bars(rootCrControl, rootCrControlErr), cr);
  series(g, rootTimeControl.map(xa), rootWtControl.map(y), bars(rootWtControl, rootWtControlErr), wt);
  series(g, rootTimeSalt.map(xb), rootOeSalt.map(y), bars(rootOeSalt, rootOeSaltErr), oe);
  series(g, rootTimeSalt.map(xb), rootWtSalt.map(y), bars(rootWtSalt, rootWtSaltErr), wt);
  series(g, rootTimeSalt.map(xb), rootCrSalt.map(y), bars(rootCrSalt, rootCrSaltErr), cr);
})();

// ---------- Panel H ----------
(function () {
  var g = document.getElementById('lineH');
  var y = function (v) { return 763 - v * 34 / 5000; };
  var x = function (t) { return 488 + t * 303 / 300; };
  var zero = line(g, 488, 763, 790, 763, '#222', 1.3, 'leaf-zero-line');
  zero.setAttribute('stroke-dasharray', '1.5 3');
  line(g, 488, 626, 488, 798, '#111', 1.5, 'leaf-y-axis');
  line(g, 482, 797, 791.500, 797, '#111', 1.5, 'leaf-x-axis');
  leafYTicks.forEach(function (v) {
    line(g, 481, y(v), 488, y(v), '#111', 1.2, 'leaf-y-tick');
    label(g, 480, y(v) + 4, String(v), 11, true, 'end', 'leaf-y-label');
    if (v < 20000) {
      line(g, 484, y(v + 5000 / 3), 488, y(v + 5000 / 3), '#111', 1, 'leaf-y-minor-tick');
      line(g, 484, y(v + 10000 / 3), 488, y(v + 10000 / 3), '#111', 1, 'leaf-y-minor-tick');
    }
  });
  leafXTicks.forEach(function (t) {
    line(g, x(t), 797, x(t), 805, '#111', 1.2, 'leaf-x-tick');
    label(g, x(t), 822, String(t), 11, true, 'middle', 'leaf-x-label');
    if (t < 300) {
      [1,2,3,4,5].forEach(function (k) {
        line(g, x(t + k * 100 / 6), 797, x(t + k * 100 / 6), 801, '#111', 1, 'leaf-x-minor-tick');
      });
    }
  });
  var bars = function (vals, errs) { return vals.map(function (v, i) { return [y(v + errs[i]), y(v - errs[i])]; }); };
  var px = leafTime.map(x);
  series(g, px, leafOe.map(y), bars(leafOe, leafOeErr), {line:'#f07a2e', lw:1, err:'#f9a860', ew:1.6, cap:2, mark:'#f07a2e', shape:'rect', size:2.5, name:'leaf-oe'});
  series(g, px, leafWt.map(y), bars(leafWt, leafWtErr), {line:'#16869a', lw:1, err:'#5cc0d0', ew:1.6, cap:2, mark:'#16869a', shape:'rect', size:3, name:'leaf-wt'});
  series(g, px, leafCr.map(y), bars(leafCr, leafCrErr), {line:'#b01fe0', lw:1, err:'#d070ee', ew:1.6, cap:2, mark:'#b01fe0', shape:'rect', size:3.5, name:'leaf-cr'});
})();
</script>
</body>
</html>
